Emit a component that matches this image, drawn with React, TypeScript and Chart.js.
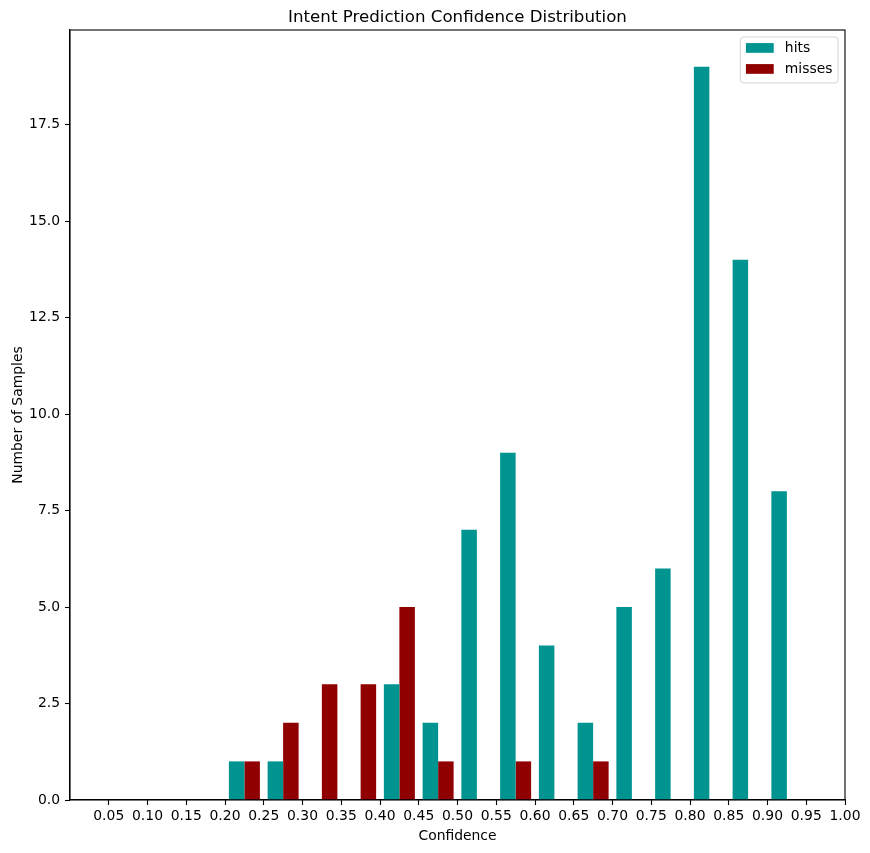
import React, { useEffect, useRef } from "react";
import { Chart, registerables } from "chart.js";

Chart.register(...registerables);

// ---- data ----
const binStarts = [0.05, 0.1, 0.15, 0.2, 0.25, 0.3, 0.35, 0.4, 0.45, 0.5, 0.55, 0.6, 0.65, 0.7, 0.75, 0.8, 0.85, 0.9, 0.95];
const binWidth = 0.05;
const hitsCounts = [0, 0, 0, 1, 1, 0, 0, 3, 2, 7, 9, 4, 2, 5, 6, 19, 14, 8, 0];
const missesCounts = [0, 0, 0, 1, 2, 3, 3, 5, 1, 0, 1, 0, 1, 0, 0, 0, 0, 0, 0];
const xTickValues = [0.05, 0.1, 0.15, 0.2, 0.25, 0.3, 0.35, 0.4, 0.45, 0.5, 0.55, 0.6, 0.65, 0.7, 0.75, 0.8, 0.85, 0.9, 0.95, 1.0];
const yTickValues = [0, 2.5, 5, 7.5, 10, 12.5, 15, 17.5];
const seriesLabels = ["hits", "misses"];
const seriesColors = ["#009490", "#900000"];
const titleText = "Intent Prediction Confidence Distribution";
const xTitle = "Confidence";
const yTitle = "Number of Samples";

const FONT = '"DejaVu Sans", sans-serif';
const FS = 13.9;

const framePlugin = {
  id: "frameAndLegend",
  afterDraw(chart: any) {
    const { ctx, chartArea } = chart;
    ctx.save();
    // spines
    ctx.strokeStyle = "#000";
    ctx.lineWidth = 1.1;
    ctx.strokeRect(chartArea.left, chartArea.top, chartArea.right - chartArea.left, chartArea.bottom - chartArea.top);

    // legend (upper right, inside axes)
    ctx.font = `${FS}px ${FONT}`;
    const items = chart.data.datasets.map((d: any) => ({ label: d.label, color: d.backgroundColor }));
    let tw = 0;
    items.forEach((it: any) => { tw = Math.max(tw, ctx.measureText(it.label).width); });
    const pad = 0.4 * FS;
    const handleLen = 2 * FS;
    const textPad = 0.8 * FS;
    const rowH = 21;
    const inset = 11;
    const w = pad + handleLen + textPad + tw + pad;
    const h = inset * 2 + (items.length - 1) * rowH + 3;
    const right = chartArea.right - 0.5 * FS;
    const top = chartArea.top + 0.5 * FS;
    const left = right - w;
    const r = 3;
    ctx.beginPath();
    ctx.moveTo(left + r, top);
    ctx.lineTo(left + w - r, top);
    ctx.quadraticCurveTo(left + w, top, left + w, top + r);
    ctx.lineTo(left + w, top + h - r);
    ctx.quadraticCurveTo(left + w, top + h, left + w - r, top + h);
    ctx.lineTo(left + r, top + h);
    ctx.quadraticCurveTo(left, top + h, left, top + h - r);
    ctx.lineTo(left, top + r);
    ctx.quadraticCurveTo(left, top, left + r, top);
    ctx.closePath();
    ctx.fillStyle = "rgba(255,255,255,0.8)";
    ctx.fill();
    ctx.strokeStyle = "rgba(204,204,204,0.8)";
    ctx.lineWidth = 1;
    ctx.stroke();
    items.forEach((it: any, i: number) => {
      const cy = top + inset + i * rowH;
      ctx.fillStyle = it.color;
      ctx.fillRect(left + pad, cy - 0.35 * FS, handleLen, 0.7 * FS);
      ctx.fillStyle = "#000";
      ctx.textAlign = "left";
      ctx.textBaseline = "middle";
      ctx.fillText(it.label, left + pad + handleLen + textPad, cy);
    });
    ctx.restore();
  },
};

export default function App() {
  const ref = useRef<HTMLCanvasElement | null>(null);

  useEffect(() => {
    if (!ref.current) return;
    const centers = binStarts.map((s) => s + binWidth / 2);
    const counts = [hitsCounts, missesCounts];
    const chart = new Chart(ref.current, {
      type: "bar",
      data: {
        datasets: seriesLabels.map((label, k) => ({
          label,
          data: centers.map((x, i) => ({ x, y: counts[k][i] })),
          backgroundColor: seriesColors[k],
          borderWidth: 0,
          categoryPercentage: 0.8,
          barPercentage: 1.0,
        })),
      },
      options: {
        responsive: false,
        animation: false,
        events: [],
        layout: { padding: { left: 0, right: 25, top: 0, bottom: 0 } },
        plugins: {
          legend: { display: false },
          tooltip: { enabled: false },
          title: {
            display: true,
            text: titleText,
            fullSize: false,
            color: "#000",
            font: { family: FONT, size: 16.67, weight: "normal" },
            padding: { top: 8, bottom: 2 },
          },
        },
        scales: {
          x: {
            type: "linear",
            min: 0,
            max: 1,
            offset: false,
            grid: {
              display: true,
              drawOnChartArea: false,
              drawTicks: true,
              tickLength: 5,
              tickWidth: 1.1,
              tickColor: "#000",
              offset: false,
            },
            border: { display: true, color: "#000", width: 1.1 },
            ticks: {
              color: "#000",
              font: { family: FONT, size: FS },
              padding: 3,
              maxRotation: 0,
              autoSkip: false,
              callback: (v: any) => Number(v).toFixed(2),
            },
            title: {
              display: true,
              text: xTitle,
              color: "#000",
              font: { family: FONT, size: FS },
              padding: { top: 0, bottom: 8 },
            },
            afterBuildTicks: (axis: any) => {
              axis.ticks = xTickValues.map((value) => ({ value }));
            },
            afterFit: (axis: any) => {
              axis.height = 53;
            },
          },
          y: {
            type: "linear",
            min: 0,
            max: 19.95,
            grid: {
              display: true,
              drawOnChartArea: false,
              drawTicks: true,
              tickLength: 5,
              tickWidth: 1.1,
              tickColor: "#000",
            },
            border: { display: true, color: "#000", width: 1.1 },
            ticks: {
              color: "#000",
              font: { family: FONT, size: FS },
              padding: 5,
              autoSkip: false,
              callback: (v: any) => Number(v).toFixed(1),
            },
            title: {
              display: true,
              text: yTitle,
              color: "#000",
              font: { family: FONT, size: FS },
              padding: { top: 10, bottom: 0 },
            },
            afterBuildTicks: (axis: any) => {
              axis.ticks = yTickValues.map((value) => ({ value }));
            },
            afterFit: (axis: any) => {
              axis.width = 70;
            },
          },
        },
      },
      plugins: [framePlugin],
    } as any);
    return () => chart.destroy();
  }, []);

  return (
    <div style={{ position: "absolute", left: 0, top: 0, width: 870, height: 853, background: "#fff" }}>
      <canvas ref={ref} width={870} height={853} style={{ width: 870, height: 853, display: "block" }} />
    </div>
  );
}
